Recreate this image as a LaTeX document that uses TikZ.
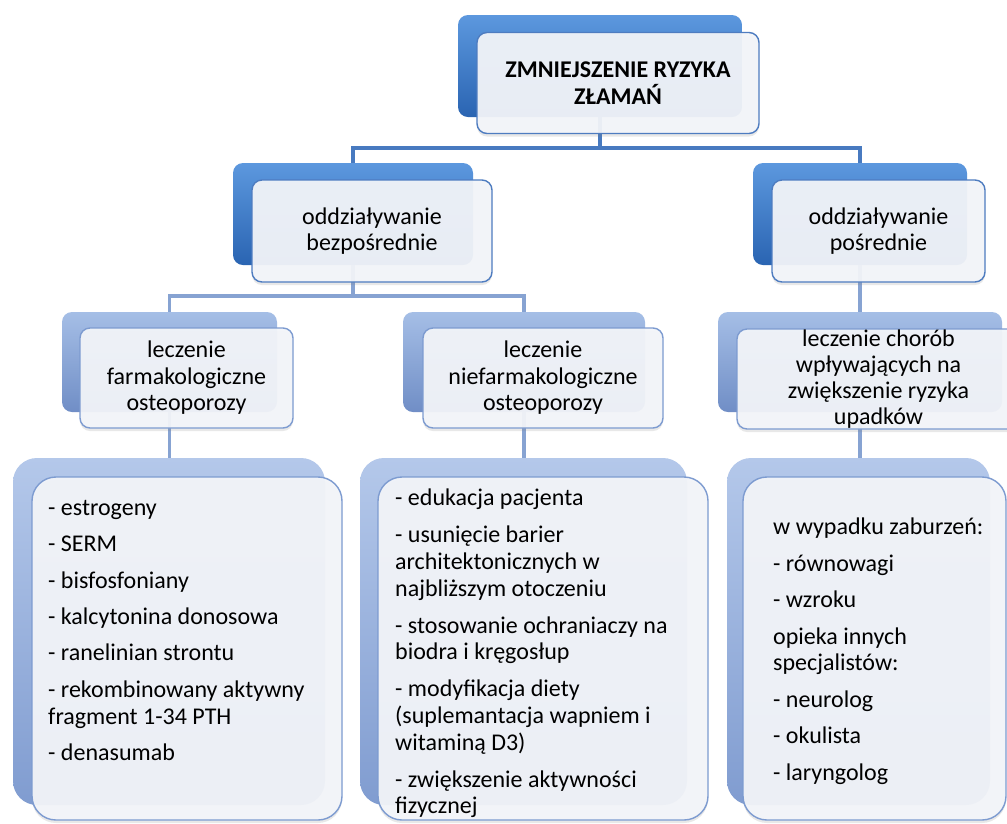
\documentclass[tikz,border=0pt]{standalone}
\usepackage{fontspec}
\setmainfont{Carlito}
\usetikzlibrary{shadows,calc}
\definecolor{deepTop}{RGB}{92,152,222}
\definecolor{deepBot}{RGB}{42,100,178}
\definecolor{midTop}{RGB}{165,190,230}
\definecolor{midBot}{RGB}{112,142,198}
\definecolor{paleTop}{RGB}{180,200,234}
\definecolor{paleBot}{RGB}{128,156,208}
\definecolor{frontFill}{RGB}{243,245,249}
\definecolor{edgeDeep}{RGB}{78,124,192}
\definecolor{edgePale}{RGB}{125,155,208}
\definecolor{connDeep}{RGB}{72,122,192}
\definecolor{connPale}{RGB}{135,163,210}
\begin{document}
\begin{tikzpicture}[x=1pt,y=-1pt,
  backbox/.style={draw=none, inner sep=0pt, rounded corners=10pt},
  deepback/.style={backbox, top color=deepTop, bottom color=deepBot},
  midback/.style={backbox, top color=midTop, bottom color=midBot},
  paleback/.style={backbox, top color=paleTop, bottom color=paleBot, rounded corners=24pt},
  frontbox/.style={draw=edgeDeep, line width=1.4pt, fill=frontFill, fill opacity=0.94,
     text opacity=1, rounded corners=10pt, inner sep=0pt, align=center,
     font=\fontsize{24}{26.5}\selectfont,
     drop shadow={shadow xshift=0pt, shadow yshift=-3pt, opacity=0.18}},
  frontpale/.style={frontbox, draw=edgePale},
  frontlist/.style={frontpale, rounded corners=24pt},
  listtext/.style={inner sep=0pt, anchor=north west, align=left,
     font=\fontsize{24}{26.8}\selectfont},
  conndeep/.style={draw=connDeep, line width=3.6pt},
  connpale/.style={draw=connPale, line width=3.6pt}]
\useasboundingbox (0,0) rectangle (1007,823);
\fill[white] (0,0) rectangle (1007,823);

% bus levels
\coordinate (busA) at (0,148);
\coordinate (busB) at (0,296);

% back boxes
\node[deepback, minimum width=284pt, minimum height=102pt] (topB) at (600,66) {};
\node[deepback, minimum width=240pt, minimum height=102pt] (dirB) at (353,214) {};
\node[deepback, minimum width=214pt, minimum height=102pt] (indB) at (860,214) {};
\node[midback, minimum width=215pt, minimum height=100pt] (pharB) at (169.5,362) {};
\node[midback, minimum width=242pt, minimum height=100pt] (nonpB) at (524,362) {};
\node[midback, minimum width=284pt, minimum height=100pt] (disB) at (860,362) {};
\node[paleback, minimum width=312pt, minimum height=347pt] (listAB) at (169,631.5) {};
\node[paleback, minimum width=327pt, minimum height=347pt] (listBB) at (523.5,631.5) {};
\node[paleback, minimum width=263pt, minimum height=347pt] (listCB) at (858.5,631.5) {};

% connectors
\draw[conndeep] (topB.south) -- (topB.south |- busA) -| (dirB.north);
\draw[conndeep] (topB.south |- busA) -| (indB.north);
\draw[connpale] (dirB.south) -- (dirB.south |- busB) -| (pharB.north);
\draw[connpale] (dirB.south |- busB) -| (nonpB.north);
\draw[connpale] (indB.south) -- (disB.north);
\draw[connpale] (pharB.south) -- (pharB.south |- listAB.north);
\draw[connpale] (nonpB.south) -- (nonpB.south |- listBB.north);
\draw[connpale] (disB.south) -- (disB.south |- listCB.north);

% front boxes
\node[frontbox, minimum width=282pt, minimum height=101pt,
      font=\fontsize{24}{27}\selectfont\bfseries] (topF) at (618,83)
      {ZMNIEJSZENIE RYZYKA\\ZŁAMAŃ};
\node[frontbox, minimum width=240pt, minimum height=102pt] (dirF) at (372,231)
      {oddziaływanie\\bezpośrednie};
\node[frontbox, minimum width=213pt, minimum height=102pt] (indF) at (878.5,231)
      {oddziaływanie\\pośrednie};
\node[frontpale, minimum width=213pt, minimum height=100pt] (pharF) at (186.5,378)
      {leczenie\\farmakologiczne\\osteoporozy};
\node[frontpale, minimum width=240pt, minimum height=100pt] (nonpF) at (543,378)
      {leczenie\\niefarmakologiczne\\osteoporozy};
\node[frontpale, minimum width=283pt, minimum height=100pt,
      font=\fontsize{24}{26}\selectfont] (disF) at (878.5,379)
      {leczenie chorób\\wpływających na\\zwiększenie ryzyka\\upadków};
\node[frontlist, minimum width=310pt, minimum height=343pt] (listAF) at (187,648.5) {};
\node[frontlist, minimum width=330pt, minimum height=343pt] (listBF) at (543,648.5) {};
\node[frontlist, minimum width=263pt, minimum height=343pt] (listCF) at (874.5,648.5) {};

% list texts
\node[listtext] (listAT) at (48,500) {- estrogeny\\[9.6pt]- SERM\\[9.6pt]- bisfosfoniany\\[9.6pt]- kalcytonina donosowa\\[9.6pt]- ranelinian strontu\\[9.6pt]- rekombinowany aktywny\\fragment 1-34 PTH\\[9.6pt]- denasumab};
\node[listtext] (listBT) at (395,489) {- edukacja pacjenta\\[10pt]- usunięcie barier\\architektonicznych w\\najbliższym otoczeniu\\[10pt]- stosowanie ochraniaczy na\\biodra i kręgosłup\\[10pt]- modyfikacja diety\\(suplemantacja wapniem i\\witaminą D3)\\[10pt]- zwiększenie aktywności\\fizycznej};
\node[listtext] (listCT) at (773,518) {w wypadku zaburzeń:\\[9.6pt]- równowagi\\[9.6pt]- wzroku\\[9.6pt]opieka innych\\specjalistów:\\[9.6pt]- neurolog\\[9.6pt]- okulista\\[9.6pt]- laryngolog};
\end{tikzpicture}
\end{document}
